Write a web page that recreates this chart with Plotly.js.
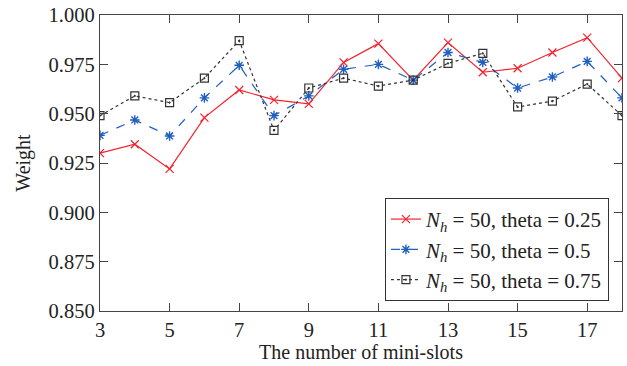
<!DOCTYPE html>
<html>
<head>
<meta charset="utf-8">
<script src="https://cdn.plot.ly/plotly-3.0.1.min.js"></script>
<style>html,body{margin:0;padding:0;background:#fff;}#chart{width:627px;height:366px;}</style>
</head>
<body>
<div id="chart"></div>
<script>
const slots = [3,4,5,6,7,8,9,10,11,12,13,14,15,16,17,18];
const theta025 = [0.930,0.9345,0.922,0.948,0.962,0.957,0.955,0.976,0.9855,0.967,0.986,0.971,0.973,0.981,0.9885,0.968];
const theta050 = [0.939,0.9468,0.9387,0.958,0.9745,0.949,0.959,0.9725,0.975,0.967,0.981,0.976,0.963,0.9686,0.9765,0.958];
const theta075 = [0.949,0.959,0.9556,0.968,0.987,0.9415,0.963,0.968,0.964,0.967,0.9755,0.9806,0.9534,0.9564,0.965,0.949];
const seriesNames = [
  "<i>N</i><sub><i>h</i></sub> = 50, theta = 0.25",
  "<i>N</i><sub><i>h</i></sub> = 50, theta = 0.5",
  "<i>N</i><sub><i>h</i></sub> = 50, theta = 0.75"
];
const xTicks = [3,5,7,9,11,13,15,17];
const yTicks = [0.850,0.875,0.900,0.925,0.950,0.975,1.000];

const font = "Liberation Serif, Times New Roman, serif";
const traces = [
  {x: slots, y: theta025, name: seriesNames[0], mode: "lines+markers", type: "scatter",
   line: {color: "#f5222d", width: 1.2, dash: "solid"},
   marker: {symbol: "x-thin-open", size: 8, color: "#f5222d", line: {color: "#f5222d", width: 1.2}}},
  {x: slots, y: theta050, name: seriesNames[1], mode: "lines+markers", type: "scatter",
   line: {color: "#1f5fbf", width: 1.2, dash: "dash"},
   marker: {symbol: "asterisk-open", size: 8, color: "#1f5fbf", line: {color: "#1f5fbf", width: 1.4}}},
  {x: slots, y: theta075, name: seriesNames[2], mode: "lines+markers", type: "scatter",
   line: {color: "#333333", width: 1.2, dash: "dot"},
   marker: {symbol: "square-open-dot", size: 8, color: "#333333", line: {color: "#333333", width: 1.2}}}
];

const axisCommon = {
  showline: true, linecolor: "#444", linewidth: 1.2, mirror: "ticks",
  ticks: "inside", ticklen: 8, tickwidth: 1, tickcolor: "#444",
  showgrid: false, zeroline: false,
  tickfont: {family: font, size: 20.5, color: "#222"}
};

const layout = {
  width: 627, height: 366,
  margin: {l: 100, r: 5, t: 15, b: 55},
  paper_bgcolor: "#fff", plot_bgcolor: "#fff",
  showlegend: true,
  font: {family: font, size: 20, color: "#222"},
  xaxis: Object.assign({}, axisCommon, {
    range: [3, 18], tickvals: xTicks, ticktext: xTicks.map(String),
    title: {text: "The number of mini-slots", font: {family: font, size: 20, color: "#222"}, standoff: 4}
  }),
  yaxis: Object.assign({}, axisCommon, {
    range: [0.85, 1.0], tickvals: yTicks, ticktext: yTicks.map(v => v.toFixed(3)),
    title: {text: "Weight", font: {family: font, size: 20, color: "#222"}, standoff: 12}
  }),
  legend: {
    x: 0.975, y: 0.382, xanchor: "right", yanchor: "top",
    bgcolor: "#fff", bordercolor: "#333", borderwidth: 1,
    font: {family: font, size: 21, color: "#222"},
    itemwidth: 30, tracegroupgap: 0
  }
};

Plotly.newPlot("chart", traces, layout, {displayModeBar: false, staticPlot: true});
</script>
</body>
</html>
